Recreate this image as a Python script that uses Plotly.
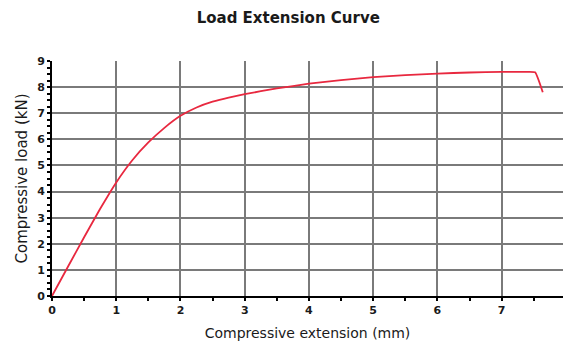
import plotly.graph_objects as go

# Compression test: extension (mm) vs load (kN)
extension_mm = [0, 0.25, 0.5, 0.75, 1.0, 1.25, 1.5, 1.75, 2.0, 2.25, 2.5, 2.75,
                3.0, 3.5, 4.0, 4.5, 5.0, 5.5, 6.0, 6.5, 7.0, 7.3, 7.52, 7.64]
load_kn = [0, 1.13, 2.25, 3.34, 4.35, 5.2, 5.88, 6.44, 6.9, 7.22, 7.44, 7.6,
           7.73, 7.95, 8.13, 8.27, 8.38, 8.46, 8.52, 8.56, 8.58, 8.58, 8.57, 7.8]

x_ticks = [0, 1, 2, 3, 4, 5, 6, 7]
y_ticks = [0, 1, 2, 3, 4, 5, 6, 7, 8, 9]

W, H = 563, 347
font_family = "DejaVu Sans"
text_color = "#1a1a1a"

fig = go.Figure()
fig.add_trace(go.Scatter(
    x=extension_mm, y=load_kn, mode="lines",
    line=dict(color="#e8283f", width=1.8, shape="spline", smoothing=0.35),
    hoverinfo="skip", showlegend=False,
))

axis_common = dict(
    showline=True, linecolor="black", linewidth=2,
    showgrid=True, gridcolor="#7a7a7a", gridwidth=1.5,
    zeroline=False,
    ticks="outside", ticklen=3, tickwidth=2, tickcolor="black",
    tickfont=dict(family=font_family, size=11, color=text_color, weight="bold"),
)

fig.update_xaxes(
    range=[0, 7.955], tickvals=x_ticks,
    minor=dict(dtick=0.5, ticks="outside", ticklen=3, tickwidth=2, tickcolor="black", showgrid=False),
    title=dict(text="Compressive extension (mm)", standoff=12,
               font=dict(family=font_family, size=14, color=text_color)),
    **axis_common,
)
fig.update_yaxes(
    range=[0, 9], tickvals=y_ticks,
    minor=dict(dtick=0.25, ticks="outside", ticklen=3, tickwidth=2, tickcolor="black", showgrid=False),
    title=dict(text="Compressive load (kN)", standoff=6,
               font=dict(family=font_family, size=15, color=text_color)),
    **axis_common,
)

fig.update_layout(
    width=W, height=H,
    margin=dict(l=52, r=0, t=61, b=51, autoexpand=False),
    paper_bgcolor="white", plot_bgcolor="white",
    title=dict(
        text="Load Extension Curve", x=0.512, xanchor="center", y=1 - 18 / H, yanchor="middle",
        font=dict(family=font_family, size=15, color=text_color, weight="bold"),
    ),
)

fig.write_html("out.html")
